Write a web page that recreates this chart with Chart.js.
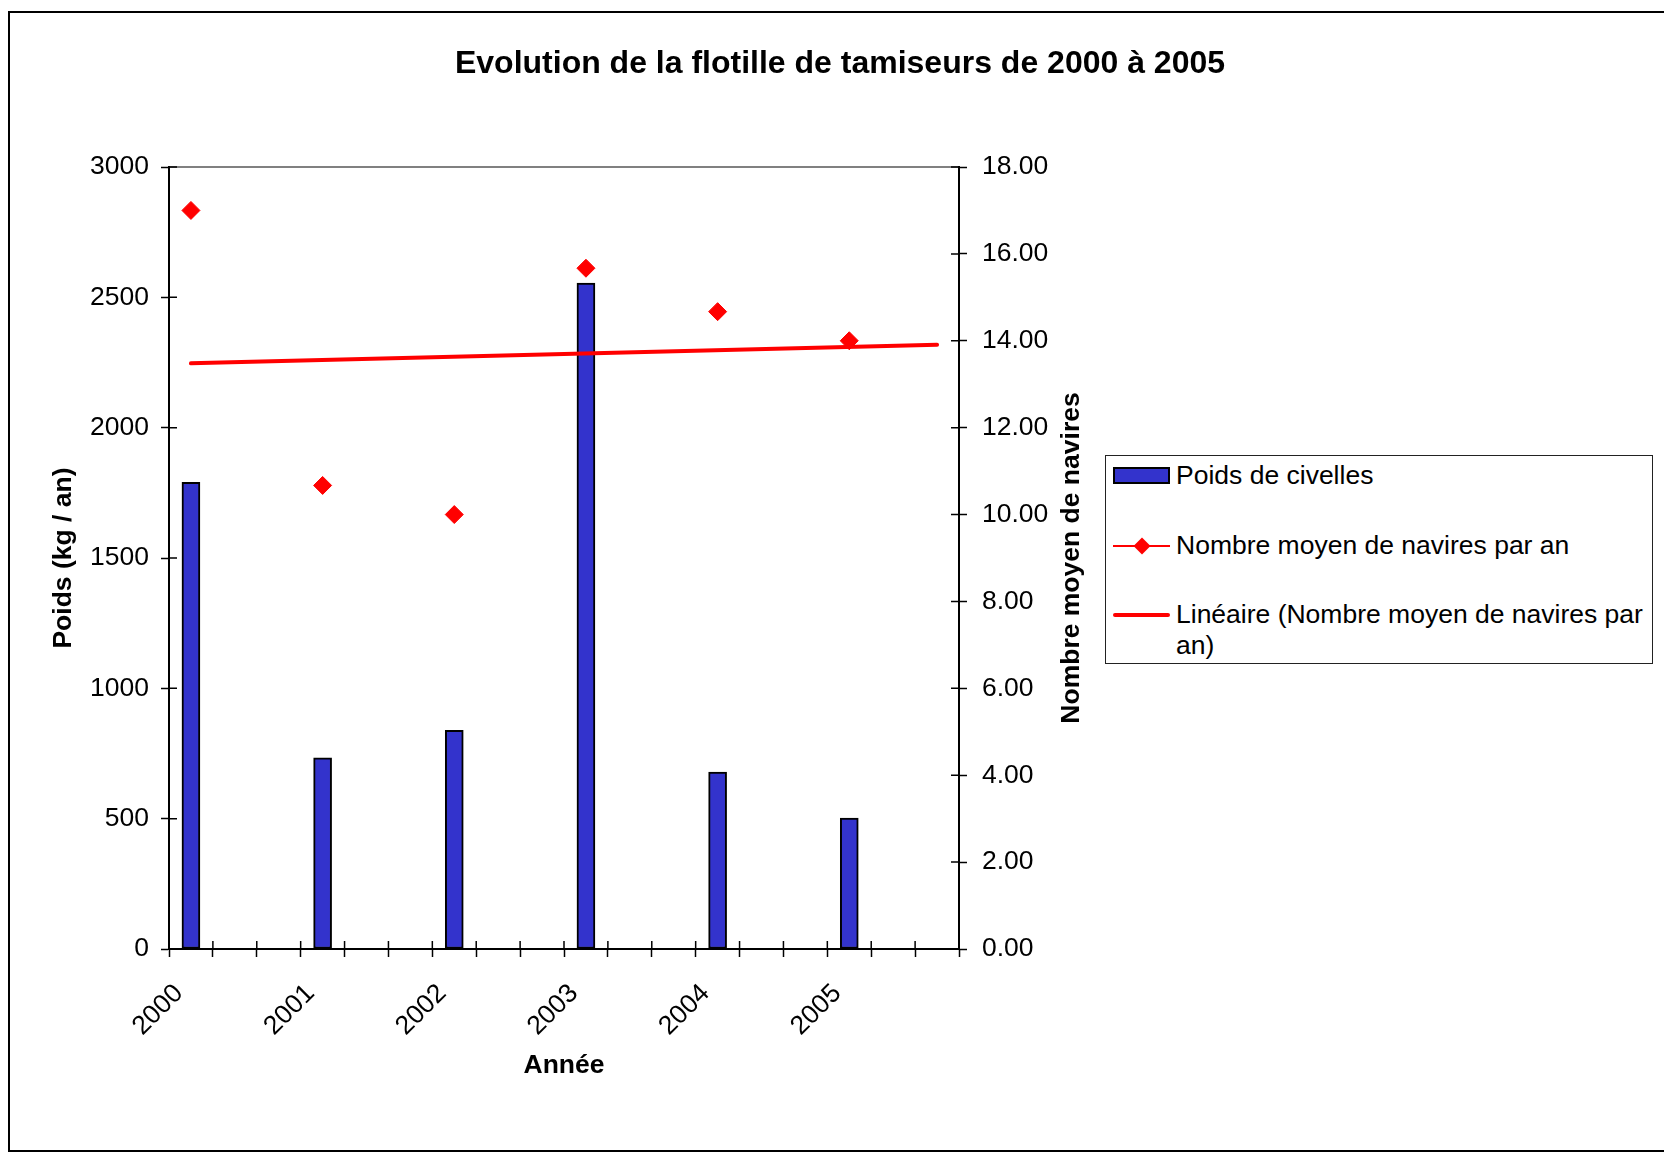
<!DOCTYPE html>
<html lang="fr">
<head>
<meta charset="utf-8">
<title>Evolution de la flotille de tamiseurs de 2000 à 2005</title>
<script src="https://cdn.jsdelivr.net/npm/chart.js@4.4.1/dist/chart.umd.min.js"></script>
<style>
  body { margin: 0; background: #fff; overflow: hidden; width: 1664px; height: 1152px; position: relative;
         font-family: 'Liberation Sans', Arial, sans-serif; }
  #frame { position: absolute; left: 8px; top: 11px; width: 1700px; height: 1141px; border: 2px solid #000; box-sizing: border-box; }
  #wrap { position: absolute; left: 9px; top: 11px; width: 1662px; height: 1140px; }
  #legend { position: absolute; left: 1105px; top: 455px; width: 548px; height: 209px; border: 1px solid #222;
            box-sizing: border-box; background: #fff; }
  .item { position: absolute; left: 0; width: 100%; }
  .sym { position: absolute; left: 7px; top: 0; width: 57px; height: 31px; }
  .sym div { position: absolute; }
  .txt { position: absolute; left: 70px; top: 0; width: 470px; font-size: 26.5px; line-height: 31px; color: #000; }
</style>
</head>
<body>
<div id="frame"></div>
<div id="wrap"><canvas id="chart" width="1662" height="1140"></canvas></div>
<div id="legend"></div>
<script>
const years = ['2000', '2001', '2002', '2003', '2004', '2005'];
const poidsCivelles = [1790, 733, 839, 2555, 679, 502];          // kg / an
const naviresMoyens = [17.0, 10.67, 10.0, 15.67, 14.67, 14.0];   // navires par an
const tendance = [13.48, 13.91];  // droite de tendance : debut et fin
const poidsTicks = [0, 500, 1000, 1500, 2000, 2500, 3000];
const naviresTicks = [0, 2, 4, 6, 8, 10, 12, 14, 16, 18];

// each year uses 3 rows of the sheet (2 empty rows between years)
const slotsPerYear = 3;
const labels = [], barData = [], pointData = [], trendData = [];
years.forEach((y, i) => {
  for (let k = 0; k < slotsPerYear; k++) {
    labels.push(k === 0 ? y : '');
    barData.push(k === 0 ? poidsCivelles[i] : null);
    pointData.push(k === 0 ? naviresMoyens[i] : null);
    trendData.push(null);
  }
});
trendData[0] = tendance[0];
trendData[trendData.length - 1] = tendance[1];

const FONT = "'Liberation Sans', Arial, sans-serif";
Chart.defaults.font.family = FONT;
Chart.defaults.color = '#000';

const RED = '#FF0000';
const BLUE = '#3333CC';

// gray plot area border
const plotBorder = {
  id: 'plotBorder',
  beforeDraw(chart) {
    const { ctx, chartArea: a } = chart;
    ctx.save();
    ctx.strokeStyle = '#808080';
    ctx.lineWidth = 2;
    ctx.strokeRect(a.left, a.top, a.right - a.left, a.bottom - a.top);
    ctx.restore();
  }
};

// Excel style "cross" tick marks: inner half of each tick
const crossTicks = {
  id: 'crossTicks',
  afterDatasetsDraw(chart) {
    const { ctx, chartArea: a, scales } = chart;
    ctx.save();
    ctx.strokeStyle = '#000';
    ctx.lineWidth = 1.5;
    ctx.beginPath();
    scales.y.ticks.forEach(t => {
      const py = scales.y.getPixelForValue(t.value);
      ctx.moveTo(a.left, py); ctx.lineTo(a.left + 8, py);
    });
    scales.y1.ticks.forEach(t => {
      const py = scales.y1.getPixelForValue(t.value);
      ctx.moveTo(a.right - 8, py); ctx.lineTo(a.right, py);
    });
    for (let i = 0; i <= labels.length; i++) {
      const px = scales.x.getPixelForValue(i - 0.5);
      ctx.moveTo(px, a.bottom); ctx.lineTo(px, a.bottom - 8);
    }
    ctx.stroke();
    ctx.restore();
  }
};

// right axis title reads bottom to top like the left one
const rightTitle = {
  id: 'rightTitle',
  afterDraw(chart) {
    const { ctx, chartArea: a } = chart;
    ctx.save();
    ctx.translate(1063, (a.top + a.bottom) / 2);
    ctx.rotate(-Math.PI / 2);
    ctx.font = 'bold 26.5px ' + FONT;
    ctx.fillStyle = '#000';
    ctx.textAlign = 'center';
    ctx.textBaseline = 'middle';
    ctx.fillText('Nombre moyen de navires', 0, 0);
    ctx.restore();
  }
};

const tickFont = { size: 26.5 };
const titleFont = { size: 26.5, weight: 'bold' };

const chart = new Chart(document.getElementById('chart'), {
  data: {
    labels: labels,
    datasets: [
      {
        type: 'bar',
        label: 'Poids de civelles',
        data: barData,
        yAxisID: 'y',
        backgroundColor: BLUE,
        borderColor: '#000',
        borderWidth: 2,
        borderSkipped: false,
        barThickness: 18,
        order: 3
      },
      {
        type: 'line',
        label: 'Nombre moyen de navires par an',
        data: pointData,
        yAxisID: 'y1',
        showLine: false,
        pointStyle: 'rectRot',
        pointRadius: 9,
        pointBackgroundColor: RED,
        pointBorderColor: RED,
        pointBorderWidth: 1,
        borderColor: RED,
        order: 2
      },
      {
        type: 'line',
        label: 'Linéaire (Nombre moyen de navires par an)',
        data: trendData,
        yAxisID: 'y1',
        spanGaps: true,
        pointRadius: 0,
        borderColor: RED,
        borderWidth: 4,
        borderCapStyle: 'round',
        order: 1
      }
    ]
  },
  options: {
    responsive: false,
    animation: false,
    events: [],
    layout: { padding: 0 },
    plugins: {
      legend: { display: false },
      tooltip: { enabled: false },
      title: {
        display: true,
        text: 'Evolution de la flotille de tamiseurs de 2000 à 2005',
        color: '#000',
        font: { size: 32, weight: 'bold' },
        padding: { top: 34, bottom: 83.6 }
      }
    },
    scales: {
      x: {
        offset: true,
        grid: { offset: true, drawOnChartArea: false, tickLength: 8, tickColor: '#000', tickWidth: 1.5 },
        border: { display: true, color: '#000', width: 2 },
        ticks: {
          autoSkip: false, minRotation: 45, maxRotation: 45, padding: 21, labelOffset: -12,
          font: tickFont, color: '#000'
        },
        title: { display: true, text: 'Année', font: titleFont, color: '#000', padding: { top: 0, bottom: 69 } },
        afterFit: s => { s.height = 202; }
      },
      y: {
        position: 'left',
        min: poidsTicks[0],
        max: poidsTicks[poidsTicks.length - 1],
        grid: { drawOnChartArea: false, tickLength: 8, tickColor: '#000', tickWidth: 1.5 },
        border: { display: true, color: '#000', width: 2 },
        ticks: {
          stepSize: poidsTicks[1] - poidsTicks[0], padding: 12, font: tickFont, color: '#000',
          callback: v => String(v)
        },
        title: { display: true, text: 'Poids (kg / an)', font: titleFont, color: '#000', padding: { top: 39 } },
        afterFit: s => { s.width = 160; }
      },
      y1: {
        position: 'right',
        min: naviresTicks[0],
        max: naviresTicks[naviresTicks.length - 1],
        grid: { drawOnChartArea: false, tickLength: 8, tickColor: '#000', tickWidth: 1.5 },
        border: { display: true, color: '#000', width: 2 },
        ticks: {
          stepSize: naviresTicks[1] - naviresTicks[0], padding: 15, font: tickFont, color: '#000',
          callback: v => v.toFixed(2)
        },
        afterFit: s => { s.width = 712; }
      }
    }
  },
  plugins: [plotBorder, crossTicks, rightTitle]
});

// html legend, built from the datasets
const rowTops = [4, 74, 143];
const legend = document.getElementById('legend');
chart.data.datasets.forEach((ds, i) => {
  const item = document.createElement('div');
  item.className = 'item';
  item.style.top = rowTops[i] + 'px';
  const sym = document.createElement('div');
  sym.className = 'sym';
  if (ds.type === 'bar') {
    sym.innerHTML = '<div style="left:0;top:7px;width:57px;height:17px;box-sizing:border-box;border:2px solid #000;background:' + BLUE + '"></div>';
  } else if (ds.showLine === false) {
    sym.innerHTML = '<div style="left:0;top:14.5px;width:57px;height:2px;background:' + RED + '"></div>' +
      '<div style="left:22.5px;top:9.5px;width:12px;height:12px;background:' + RED + ';transform:rotate(45deg)"></div>';
  } else {
    sym.innerHTML = '<div style="left:0;top:13.5px;width:57px;height:4px;border-radius:2px;background:' + RED + '"></div>';
  }
  const txt = document.createElement('div');
  txt.className = 'txt';
  txt.textContent = ds.label;
  item.appendChild(sym);
  item.appendChild(txt);
  legend.appendChild(item);
});
</script>
</body>
</html>
